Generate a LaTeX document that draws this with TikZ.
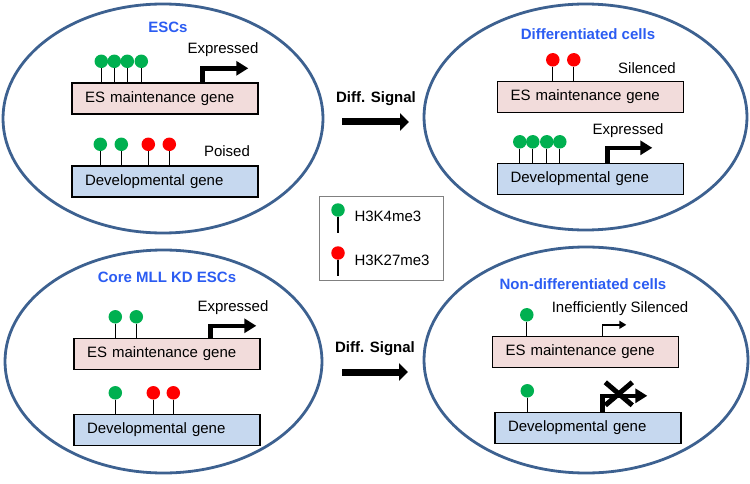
\documentclass[tikz,border=0pt]{standalone}
\usepackage{fontspec}
\setmainfont{Liberation Sans}
\usetikzlibrary{arrows.meta,shapes.geometric,positioning}
\definecolor{cellline}{HTML}{3D6190}
\definecolor{titleblue}{HTML}{2B5CF2}
\definecolor{esfill}{HTML}{F2DCDB}
\definecolor{devfill}{HTML}{C6D8EF}
\definecolor{kfour}{HTML}{00B050}
\definecolor{ktwoseven}{HTML}{FF0000}

\begin{document}
\begin{tikzpicture}[x=1pt,y=1pt,
    every node/.style={font=\fontsize{15}{18}\selectfont},  % Arial-like text
    cell/.style={                           % the four cells
        ellipse,
        draw=cellline,
        line width=2.8pt,
        inner sep=0pt
    },
    title/.style={font=\fontsize{15}{18}\selectfont\bfseries, text=titleblue},
    gene/.style={                           % gene bodies
        rectangle,
        draw=black,
        line width=1.4pt,
        text width=160pt,
        align=left,
        inner xsep=13pt,
        inner ysep=0pt,
        minimum height=31pt
    },
    hmark/.style={circle, inner sep=0pt, minimum size=13.5pt},
    stem/.style={line width=1.3pt},
    promoter/.style={line width=4.5pt, -{Triangle[length=12pt,width=14pt]}},
    weakpromoter/.style={line width=1.5pt, -{Triangle[length=7pt,width=8pt]}},
    signal/.style={line width=7pt, -{Triangle[length=9pt,width=17pt]}},
    cross/.style={line width=5pt}
]
\useasboundingbox (0,0) rectangle (750,483);

% Cells
\node[cell, minimum width=320pt, minimum height=229pt] (cellA) at (163,364.5) {};
\node[cell, minimum width=323pt, minimum height=226pt] (cellB) at (585.5,366) {};
\node[cell, minimum width=317pt, minimum height=223pt] (cellC) at (163.5,121.5) {};
\node[cell, minimum width=324pt, minimum height=226pt] (cellD) at (586,123) {};

\node[title] (titleA) at (168,456) {ESCs};
\node[title] (titleB) at (588,449) {Differentiated cells};
\node[title] (titleC) at (167,206) {Core MLL KD ESCs};
\node[title] (titleD) at (583,199) {Non-differentiated cells};

% Genes
\node[gene, fill=esfill]  (esA)  at (165,384.5) {ES maintenance gene};
\node[gene, fill=devfill] (devA) at (165,301.5) {Developmental gene};
\node[gene, fill=esfill]  (esB)  at (590.5,386) {ES maintenance gene};
\node[gene, fill=devfill] (devB) at (590.5,304) {Developmental gene};
\node[gene, fill=esfill]  (esC)  at (167,129)   {ES maintenance gene};
\node[gene, fill=devfill] (devC) at (167,53)    {Developmental gene};
\node[gene, fill=esfill]  (esD)  at (585.5,131) {ES maintenance gene};
\node[gene, fill=devfill] (devD) at (588,55)    {Developmental gene};

% Histone marks: offset from the gene's left end / colour
\foreach \g/\n/\x/\c in {esA/1/30/kfour, esA/2/43/kfour, esA/3/56/kfour, esA/4/70/kfour,
        devA/1/29/kfour, devA/2/50/kfour, devA/3/77/ktwoseven, devA/4/98/ktwoseven,
        esB/1/56/ktwoseven, esB/2/77/ktwoseven,
        devB/1/23/kfour, devB/2/36/kfour, devB/3/50/kfour, devB/4/63/kfour,
        esC/1/42/kfour, esC/2/63/kfour,
        devC/1/42/kfour, devC/2/80/ktwoseven, devC/3/100/ktwoseven,
        esD/1/35/kfour,
        devD/1/33/kfour} {
    \node[hmark, fill=\c] (\g m\n) at ([xshift=\x pt, yshift=21pt]\g.north west) {};
    \draw[stem] (\g m\n.south) -- (\g m\n |- \g.north);
}

% Transcription start sites
\draw[promoter] ([xshift=131pt]esA.north west) |- ++(46,14);
\draw[promoter] ([xshift=110.5pt]devB.north west) |- ++(45,15);
\draw[promoter] ([xshift=137pt]esC.north west) |- ++(46,12);
\draw[promoter] ([xshift=108pt]devD.north west) |- ++(45,16);
\draw[weakpromoter] ([xshift=110.5pt]esD.north west) |- ++(24,11);

% Blocked transcription
\coordinate (block) at ([shift={(124.5,18)}]devD.north west);
\draw[cross] ([shift={(-13.5,-11.5)}]block) -- ([shift={(13.5,11.5)}]block);
\draw[cross] ([shift={(-13.5,11.5)}]block) -- ([shift={(13.5,-11.5)}]block);

% State labels
\node (exprA)  at (223,433) {Expressed};
\node (poised) at (227,332) {Poised};
\node (silent) at (647,415) {Silenced};
\node (exprB)  at (628,352) {Expressed};
\node (exprC)  at (233,175) {Expressed};
\node (weak)   at (620,174) {Inefficiently Silenced};

% Differentiation signal
\node[font=\fontsize{15}{18}\selectfont\bfseries] (sigA) at (376,384) {Diff. Signal};
\node[font=\fontsize{15}{18}\selectfont\bfseries] (sigC) at (375,134) {Diff. Signal};
\coordinate (sigAfrom) at (342,361);
\coordinate (sigAto)   at (409,361);
\coordinate (sigCfrom) at (342,111);
\coordinate (sigCto)   at (408,111);
\draw[signal] (sigAfrom) -- (sigAto);
\draw[signal] (sigCfrom) -- (sigCto);

% Legend
\node[draw=gray, line width=0.8pt, minimum width=124pt, minimum height=84pt] (legend) at (381,245) {};
\node[hmark, fill=kfour] (lgA) at (338,273) {};
\draw[stem] (lgA.south) -- ++(0,-16);
\node[hmark, fill=ktwoseven] (lgB) at (338,230) {};
\draw[stem] (lgB.south) -- ++(0,-16);
\node[anchor=west] (lgAtext) at (351,267) {H3K4me3};
\node[anchor=west] (lgBtext) at (351,223) {H3K27me3};

\end{tikzpicture}
\end{document}
